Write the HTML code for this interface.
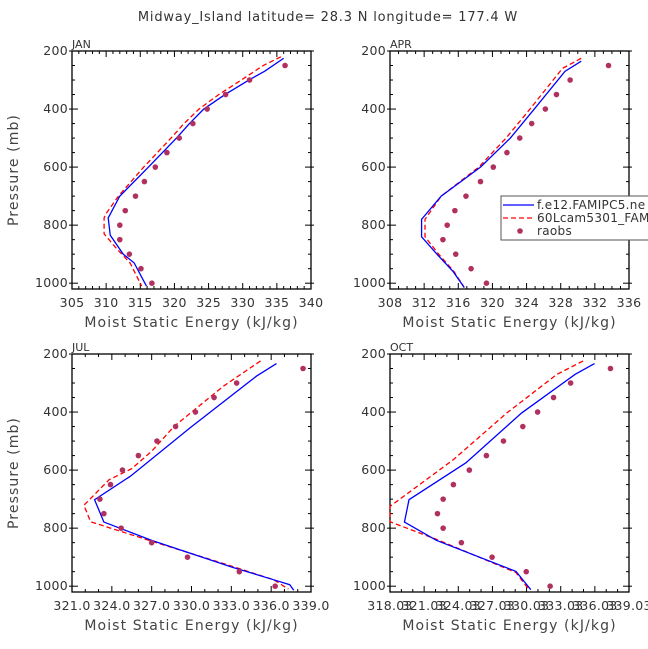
<!DOCTYPE html>
<html><head><meta charset="utf-8">
<style>
body{margin:0;background:#fff;}
svg{display:block;font-family:"DejaVu Sans","Liberation Sans",sans-serif;}
</style></head>
<body>
<svg id="chart" width="648" height="649" viewBox="0 0 648 649">
<text x="328" y="21" font-size="13" letter-spacing="0.8" text-anchor="middle" fill="#333">Midway_Island  latitude= 28.3 N longitude= 177.4 W</text>
</svg>
<script>
// ---- data ----
const panelNames = ["JAN","APR","JUL","OCT"];
const xMin = [305, 308, 321.0, 318.03];
const xMax = [340, 336, 339.0, 339.03];
const xStep = [5, 4, 3, 3];
const xMinorPerMajor = [5, 4, 3, 3];
const xDecimals = [0, 0, 1, 2];
const yTicks = [200, 400, 600, 800, 1000];
const obsP = [250,300,350,400,450,500,550,600,650,700,750,800,850,900,950,1000];
const obsJAN = [336.2,331.0,327.5,324.8,322.7,320.7,318.9,317.2,315.6,314.3,312.8,312.0,312.0,313.4,315.1,316.7];
const obsAPR = [333.6,329.1,327.5,326.2,324.6,323.2,321.7,320.1,318.6,316.9,315.6,314.7,314.2,315.7,317.5,319.3];
const obsJUL = [338.4,333.4,331.7,330.3,328.8,327.4,326.0,324.8,323.9,323.1,323.4,324.7,327.0,329.7,333.6,336.3];
const obsOCT = [337.4,333.9,332.4,331.0,329.7,328.0,326.5,325.0,323.6,322.7,322.2,322.7,324.3,327.0,330.0,332.1];
const blueP_JAN = [225,270,300,350,400,450,500,600,700,775,835,900,930,1010];
const blueJAN = [336.0,333.2,330.9,327.4,324.3,322.2,320.3,316.2,312.0,310.3,310.6,312.5,314.1,315.9];
const redP_JAN = [220,250,300,350,400,450,500,600,700,760,775,830,880,930,1010];
const redJAN = [335.6,333.0,329.8,326.5,323.6,321.4,319.5,315.5,311.8,310.0,309.7,309.7,311.5,313.5,315.2];
const blueP_APR = [235,270,400,500,600,700,780,840,900,960,1015];
const blueAPR = [330.4,328.5,324.9,322.1,318.6,314.0,311.7,311.7,313.5,315.4,316.7];
const redP_APR = [225,260,400,500,600,700,780,840,900,960,1015];
const redAPR = [330.4,328.2,324.4,321.6,318.4,314.0,312.1,312.1,313.7,315.5,316.7];
const blueP_JUL = [233,276,454,621,702,779,842,935,978,995,1014];
const blueJUL = [336.4,334.9,329.9,325.4,322.7,323.4,327.0,333.1,336.2,337.4,337.7];
const redP_JUL = [224,311,449,535,595,633,721,778,842,932,978,1010];
const redJUL = [335.2,332.4,328.7,327.0,325.5,323.8,321.9,322.4,326.8,333.1,336.2,337.3];
const blueP_OCT = [233,270,403,575,702,779,842,949,1012];
const blueOCT = [336.0,334.3,329.6,324.7,319.7,319.3,322.1,329.1,330.4];
const redP_OCT = [224,270,403,564,725,778,840,953,1010];
const redOCT = [335.0,332.7,328.3,323.6,318.03,318.03,322.2,329.1,330.2];
const legendLabels = ["f.e12.FAMIPC5.ne","60Lcam5301_FAMIPC5","raobs"];

const obsAll=[obsJAN,obsAPR,obsJUL,obsOCT];
const blueAll=[[blueP_JAN,blueJAN],[blueP_APR,blueAPR],[blueP_JUL,blueJUL],[blueP_OCT,blueOCT]];
const redAll=[[redP_JAN,redJAN],[redP_APR,redAPR],[redP_JUL,redJUL],[redP_OCT,redOCT]];

const NS="http://www.w3.org/2000/svg";
const svg=document.getElementById('chart');
function mk(tag,attrs,parent){const e=document.createElementNS(NS,tag);for(const k in attrs)e.setAttribute(k,attrs[k]);(parent||svg).appendChild(e);return e;}

const boxX=[72,390,72,390], boxY=[51,51,354,354], W=239, H=238;
const pMin=200,pMax=1020;

for(let i=0;i<4;i++){
  const g=mk('g',{});
  
  
  const x0=boxX[i],y0=boxY[i];
  const xs=v=>x0+(v-xMin[i])/(xMax[i]-xMin[i])*W;
  const ys=p=>y0+(p-pMin)/(pMax-pMin)*H;
  const frame=mk('rect',{x:x0,y:y0,width:W,height:H,fill:'none',stroke:'#000','stroke-width':1.3},g);
  
  
  const pl=mk('text',{x:x0,y:y0-3,'font-size':11,fill:'#333'},g);pl.textContent=panelNames[i];
  
  
  const nMaj=Math.round((xMax[i]-xMin[i])/xStep[i]);
  for(let k=0;k<=nMaj;k++){
    const v=xMin[i]+k*xStep[i], x=xs(v);
    mk('line',{x1:x,x2:x,y1:y0+H,y2:y0+H-6,stroke:'#000'},g);
    mk('line',{x1:x,x2:x,y1:y0,y2:y0+6,stroke:'#000'},g);
    const t=mk('text',{x:x,y:y0+H+18,'font-size':12.5,'letter-spacing':0.3,'text-anchor':'middle',fill:'#333'},g);
    t.textContent=v.toFixed(xDecimals[i]);
    
    
    if(k<nMaj){for(let m=1;m<xMinorPerMajor[i];m++){const xm=xs(v+m*xStep[i]/xMinorPerMajor[i]);
      mk('line',{x1:xm,x2:xm,y1:y0+H,y2:y0+H-3,stroke:'#000'},g);
      mk('line',{x1:xm,x2:xm,y1:y0,y2:y0+3,stroke:'#000'},g);}}
  }
  for(let p=200;p<=1000;p+=50){
    const y=ys(p),len=(p%200===0)?6:3;
    mk('line',{x1:x0-(len>3?3:0),x2:x0+len,y1:y,y2:y,stroke:'#000'},g);
    mk('line',{x1:x0+W-len,x2:x0+W+(len>3?3:0),y1:y,y2:y,stroke:'#000'},g);
  }
  yTicks.forEach(p=>{const t=mk('text',{x:x0-4,y:ys(p)+4,'font-size':12.5,'letter-spacing':0.3,'text-anchor':'end',fill:'#333'},g);t.textContent=p;
    
    });
  const xt=mk('text',{x:x0+W/2,y:y0+H+38,'font-size':14,'letter-spacing':1.1,'text-anchor':'middle',fill:'#444'},g);
  xt.textContent='Moist Static Energy (kJ/kg)';
  
  
  if(i%2===0){const yt=mk('text',{x:0,y:0,'font-size':14,'letter-spacing':1.1,'text-anchor':'middle',fill:'#444',transform:`translate(18,${y0+H/2}) rotate(-90)`},g);
    yt.textContent='Pressure (mb)';
    
    }
  const [rp,rv]=redAll[i];
  const red=mk('polyline',{points:rp.map((p,k)=>xs(rv[k])+','+ys(p)).join(' '),fill:'none',stroke:'#f00','stroke-width':1.3,'stroke-dasharray':'5,3'},g);
  
  
  const [bp,bv]=blueAll[i];
  const blue=mk('polyline',{points:bp.map((p,k)=>xs(bv[k])+','+ys(p)).join(' '),fill:'none',stroke:'#00f','stroke-width':1.3},g);
  
  
  obsAll[i].forEach((v,k)=>{const c=mk('circle',{cx:xs(v),cy:ys(obsP[k]),r:2.8,fill:'#b03060'},g);
    
    });
}
const lg=mk('g',{});


mk('rect',{x:501,y:196,width:160,height:44,fill:'#fff',stroke:'#555','stroke-width':1},lg);
mk('line',{x1:503,x2:534,y1:205,y2:205,stroke:'#00f','stroke-width':1.3},lg);
mk('line',{x1:503,x2:534,y1:218,y2:218,stroke:'#f00','stroke-width':1.3,'stroke-dasharray':'5,3'},lg);
mk('circle',{cx:520,cy:231,r:2.8,fill:'#b03060'},lg);
legendLabels.forEach((s,k)=>{const t=mk('text',{x:537,y:209+k*13,'font-size':12,'letter-spacing':0.3,fill:'#333'},lg);t.textContent=s;
  
  });
</script>
</body></html>
